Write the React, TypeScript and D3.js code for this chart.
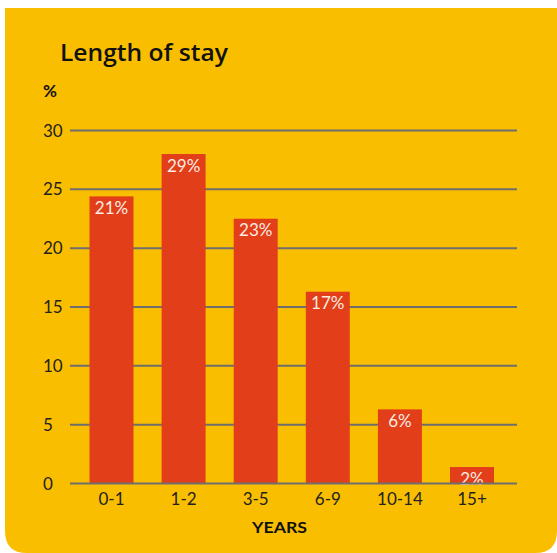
import React from "react";
import * as d3 from "d3";

const categories = ["0-1", "1-2", "3-5", "6-9", "10-14", "15+"];
const barValues = [24.4, 28.0, 22.5, 16.3, 6.3, 1.4];
const barLabels = ["21%", "29%", "23%", "17%", "6%", "2%"];
const yTicks = [0, 5, 10, 15, 20, 25, 30];

const W = 557;
const H = 553;
const FONT = "Lato, 'Open Sans', sans-serif";

export default function App() {
  const x = d3.scaleBand<string>().domain(categories).range([89.5, 494]).paddingInner(0.39).paddingOuter(0);
  const y = d3.scaleLinear().domain([0, 30]).range([483.5, 130.5]);
  const gridX0 = 70;
  const gridX1 = 517;
  const r = 22;
  const bgPath = `M5,8 H${W} V${H - r} Q${W},${H} ${W - r},${H} H${5 + r} Q5,${H} 5,${H - r} Z`;

  return (
    <svg width={W} height={H} style={{ position: "absolute", left: 0, top: 0 }} fontFamily={FONT}>
      <path d={bgPath} fill="#f9be00" />
      <text x={60} y={61} fontSize={24} fontWeight={600} fill="#111" fontFamily="'Open Sans', sans-serif" textLength={168} lengthAdjust="spacingAndGlyphs">Length of stay</text>
      <text x={43} y={97} fontSize={17} fontWeight={700} fill="#111">%</text>
      {yTicks.map((t) => (
        <g key={t}>
          {t !== 0 && (
            <line x1={gridX0} x2={gridX1} y1={y(t)} y2={y(t)} stroke="#6e6e6e" strokeWidth={2} />
          )}
          <text x={43} y={y(t) + 6} fontSize={17} fill="#222">{t}</text>
        </g>
      ))}
      {categories.map((c, i) => (
        <g key={c}>
          <rect x={x(c)} y={y(barValues[i])} width={x.bandwidth()} height={y(0) - y(barValues[i])} fill="#e23e1a" />
          <text
            x={(x(c) as number) + x.bandwidth() / 2}
            y={y(barValues[i]) + 17.5}
            textAnchor="middle"
            fontSize={17}
            fill="#fcece2"
          >
            {barLabels[i]}
          </text>
          <text x={(x(c) as number) + x.bandwidth() / 2} y={505} textAnchor="middle" fontSize={17} fill="#222">
            {c}
          </text>
        </g>
      ))}
      <line x1={gridX0} x2={gridX1} y1={y(0)} y2={y(0)} stroke="#6e6e6e" strokeWidth={2} />
      <text x={279.5} y={532.5} textAnchor="middle" fontSize={16} fontWeight={700} fill="#111" textLength={55} lengthAdjust="spacingAndGlyphs">YEARS</text>
    </svg>
  );
}
